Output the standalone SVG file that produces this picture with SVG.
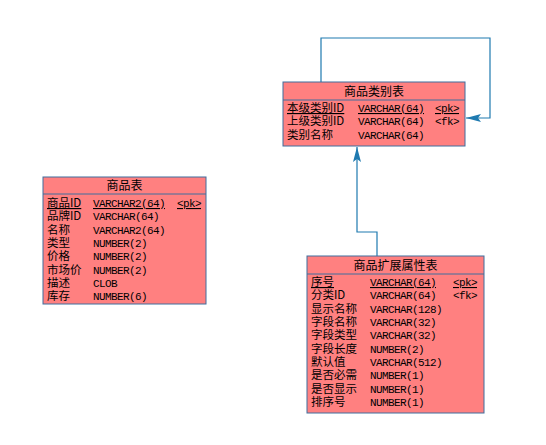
<svg xmlns="http://www.w3.org/2000/svg" width="546" height="445" viewBox="0 0 546 445">
<defs>
<style>
.box{fill:#FF8080;stroke:#3F6E9E;stroke-width:1}
.sep{stroke:#3F6E9E;stroke-width:1}
.hd{font-family:"Noto Sans CJK SC","Liberation Sans",sans-serif;font-size:12px;fill:#000;text-anchor:middle}
.nm{font-family:"Noto Sans CJK SC","Liberation Sans",sans-serif;font-size:11.5px;fill:#000}
.ty{font-family:"Liberation Mono","Noto Sans CJK SC",monospace;font-size:11px;letter-spacing:-0.6px;fill:#000}
.u{text-decoration:underline}
.cn{fill:none;stroke:#1F7AB0;stroke-width:1.2}
</style>
<marker id="ah" markerWidth="16" markerHeight="10" refX="15" refY="5" orient="auto" markerUnits="userSpaceOnUse">
<path d="M0,1 L15,5 L0,9 L3,5 Z" fill="#1F7AB0"/>
</marker>
</defs>
<rect width="546" height="445" fill="#fff"/>
<g id="connectors">
<path class="cn" d="M321,82 V38 H490 V118 H466" marker-end="url(#ah)"/>
<path class="cn" d="M377,256 V232 H357 V147" marker-end="url(#ah)"/>
</g>
<g id="cat">
<rect class="box" x="283" y="82" width="182" height="64"/>
<line class="sep" x1="283" y1="100" x2="465" y2="100"/>
<text class="hd" x="374" y="96">商品类别表</text>
<text class="nm"><tspan class="u" x="287" y="112">本级类别ID</tspan><tspan x="287" y="125">上级类别ID</tspan><tspan x="287" y="139">类别名称</tspan></text>
<text class="ty"><tspan class="u" x="358" y="112">VARCHAR(64)</tspan><tspan x="358" y="125">VARCHAR(64)</tspan><tspan x="358" y="139">VARCHAR(64)</tspan></text>
<text class="ty"><tspan class="u" x="435" y="112">&lt;pk&gt;</tspan><tspan x="435" y="125">&lt;fk&gt;</tspan></text>
</g>
<g id="goods">
<rect class="box" x="43" y="177" width="163" height="127"/>
<line class="sep" x1="43" y1="194" x2="206" y2="194"/>
<text class="hd" x="124.5" y="190">商品表</text>
<text class="nm"><tspan class="u" x="47" y="207">商品ID</tspan><tspan x="47" y="220">品牌ID</tspan><tspan x="47" y="233.5">名称</tspan><tspan x="47" y="247">类型</tspan><tspan x="47" y="260">价格</tspan><tspan x="47" y="273.5">市场价</tspan><tspan x="47" y="287">描述</tspan><tspan x="47" y="300">库存</tspan></text>
<text class="ty"><tspan class="u" x="93" y="207">VARCHAR2(64)</tspan><tspan x="93" y="220">VARCHAR(64)</tspan><tspan x="93" y="233.5">VARCHAR2(64)</tspan><tspan x="93" y="247">NUMBER(2)</tspan><tspan x="93" y="260">NUMBER(2)</tspan><tspan x="93" y="273.5">NUMBER(2)</tspan><tspan x="93" y="287">CLOB</tspan><tspan x="93" y="300">NUMBER(6)</tspan></text>
<text class="ty u" x="177" y="207">&lt;pk&gt;</text>
</g>
<g id="ext">
<rect class="box" x="307" y="256" width="177" height="157"/>
<line class="sep" x1="307" y1="274" x2="484" y2="274"/>
<text class="hd" x="395.5" y="270">商品扩展属性表</text>
<text class="nm"><tspan class="u" x="311" y="286">序号</tspan><tspan x="311" y="299">分类ID</tspan><tspan x="311" y="312.5">显示名称</tspan><tspan x="311" y="326">字段名称</tspan><tspan x="311" y="339">字段类型</tspan><tspan x="311" y="352.5">字段长度</tspan><tspan x="311" y="366">默认值</tspan><tspan x="311" y="379">是否必需</tspan><tspan x="311" y="392.5">是否显示</tspan><tspan x="311" y="406">排序号</tspan></text>
<text class="ty"><tspan class="u" x="370" y="286">VARCHAR(64)</tspan><tspan x="370" y="299">VARCHAR(64)</tspan><tspan x="370" y="312.5">VARCHAR(128)</tspan><tspan x="370" y="326">VARCHAR(32)</tspan><tspan x="370" y="339">VARCHAR(32)</tspan><tspan x="370" y="352.5">NUMBER(2)</tspan><tspan x="370" y="366">VARCHAR(512)</tspan><tspan x="370" y="379">NUMBER(1)</tspan><tspan x="370" y="392.5">NUMBER(1)</tspan><tspan x="370" y="406">NUMBER(1)</tspan></text>
<text class="ty"><tspan class="u" x="453" y="286">&lt;pk&gt;</tspan><tspan x="453" y="299">&lt;fk&gt;</tspan></text>
</g>
</svg>
